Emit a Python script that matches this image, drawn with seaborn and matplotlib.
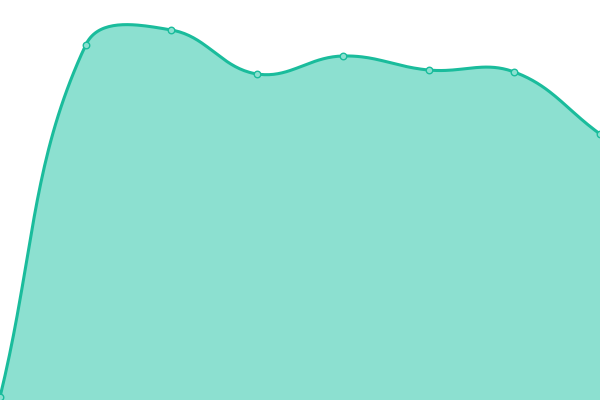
import numpy as np
import pandas as pd
import matplotlib
matplotlib.use("Agg")
import matplotlib.pyplot as plt
import seaborn as sns

# values (pixel height above bottom)
steps = [0, 1, 2, 3, 4, 5, 6, 7]
values = [3, 355, 370, 326, 344, 330, 328, 266]

line_col = "#1abc9c"
fill_col = "#8ce0d0"

sns.set_style("white")

fig = plt.figure(figsize=(6, 4), dpi=100)
ax = fig.add_axes([0, 0, 1, 1])

# spline like chart.js (tension 0.4), done in pixel space
sx, sy = 600 / 7, 1.0
px = np.array(steps, float) * sx
py = np.array(values, float) * sy
t = 0.4
n = len(px)
cp_prev = np.zeros((n, 2))
cp_next = np.zeros((n, 2))
for i in range(n):
    p0 = np.array([px[max(i - 1, 0)], py[max(i - 1, 0)]])
    p1 = np.array([px[i], py[i]])
    p2 = np.array([px[min(i + 1, n - 1)], py[min(i + 1, n - 1)]])
    d01 = np.hypot(*(p1 - p0))
    d12 = np.hypot(*(p2 - p1))
    tot = d01 + d12
    s01 = d01 / tot if tot else 0
    s12 = d12 / tot if tot else 0
    cp_prev[i] = p1 - t * s01 * (p2 - p0)
    cp_next[i] = p1 + t * s12 * (p2 - p0)

xs, ys = [], []
u = np.linspace(0, 1, 40)
for i in range(n - 1):
    a = np.array([px[i], py[i]])
    b = cp_next[i]
    c = cp_prev[i + 1]
    d = np.array([px[i + 1], py[i + 1]])
    seg = ((1 - u) ** 3)[:, None] * a + (3 * (1 - u) ** 2 * u)[:, None] * b \
        + (3 * (1 - u) * u ** 2)[:, None] * c + (u ** 3)[:, None] * d
    xs.extend(seg[:, 0] / sx)
    ys.extend(seg[:, 1] / sy)

curve = pd.DataFrame({"x": xs, "y": ys})
ax.fill_between(curve["x"], curve["y"], 0, color=fill_col, lw=0)
sns.lineplot(data=curve, x="x", y="y", sort=False, color=line_col, lw=2.2, ax=ax)
pts = pd.DataFrame({"x": steps, "y": values})
sns.scatterplot(data=pts, x="x", y="y", s=22, color=fill_col, edgecolor=line_col,
                linewidth=1, zorder=5, ax=ax, clip_on=True)

ax.set_xlim(0, 7)
ax.set_ylim(0, 400)
ax.axis("off")

fig.savefig("out.png", dpi=100)
